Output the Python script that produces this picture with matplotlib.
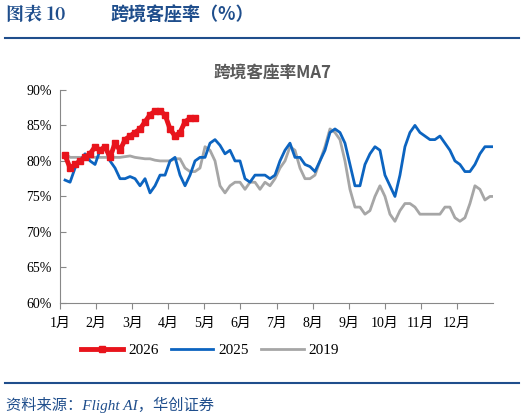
import numpy as np
import matplotlib.pyplot as plt

# 数据（按月位置采样，约每4天一个点）
y2025 = [77.3, 77, 79, 80, 81, 80, 79.5, 81.5, 82, 80, 79, 77.5, 77.5, 77.8, 77.5, 76.5, 77.5, 75.5,
         76.5, 78, 78, 80, 80.5, 78, 76.5, 78, 80, 80.5, 80.5, 82.5, 83, 82.2, 81, 81.5, 80, 80,
         77.5, 77, 78, 78, 78, 77.5, 78, 80, 81.5, 82.5, 80.5, 80.5, 79.5, 79.2, 78.5, 80, 81.5, 84,
         84.5, 84, 82.5, 79.5, 76.5, 76.5, 79.5, 81, 82, 81.5, 78, 76.5, 75, 78, 82, 84, 85, 84,
         83.5, 83, 83, 83.5, 82.5, 81.5, 80, 79.5, 78.5, 78.5, 79.5, 81, 82, 82, 82]
y2019 = [81, 80.5, 80.5, 80.5, 80.5, 80.5, 80.5, 80.5, 80.5, 80.5, 80.5, 80.5, 80.6, 80.7, 80.5, 80.4,
         80.3, 80.3, 80.1, 80, 80, 80, 80.3, 80.3, 79, 78.5, 78.5, 79, 82, 81.5, 80, 76.5, 75.5, 76.5,
         77, 77, 76, 77, 77, 76, 77, 76.5, 77.5, 79, 80, 82, 81.5, 79, 77.5, 77.5, 78, 80, 82, 84.5,
         84, 83, 80, 76, 73.5, 73.5, 72.5, 73, 75, 76.5, 75, 72.5, 71.5, 73, 74, 74, 73.5, 72.5,
         72.5, 72.5, 72.5, 72.5, 73.5, 73.5, 72, 71.5, 72, 74, 76.5, 76, 74.5, 75, 75]
y2026 = [80.8, 79, 79.5, 80, 80.5, 81, 82, 81.5, 82, 80.5, 82.5, 81.5, 83, 83.5, 84, 84.5, 85.5,
         86.5, 87, 87, 86.5, 84.5, 83.5, 84, 85.5, 86, 86]
months = [f'{i}月' for i in range(1, 13)]
yticks = [60, 65, 70, 75, 80, 85, 90]

x_full = 0.14 + 0.1385 * np.arange(len(y2025))
x_2026 = x_full[:len(y2026)]

cjk = ['Noto Sans CJK SC', 'DejaVu Sans']
serif = ['Liberation Serif', 'Noto Sans CJK SC']
navy = '#1f4e8c'

fig = plt.figure(figsize=(5.24, 4.20), dpi=100)
ax = fig.add_axes([0.1145, 0.2786, 0.8265, 0.5074])

ax.plot(x_full, y2019, color='#a6a6a6', lw=2, label='2019', zorder=2)
ax.plot(x_full, y2025, color='#0c64c0', lw=2, label='2025', zorder=3)
ax.plot(x_2026, y2026, color='#e8141c', lw=3.5, marker='s', ms=5, label='2026', zorder=4)

ax.set_xlim(0, 12.0)
ax.set_ylim(60, 90)
ax.set_xticks(range(12))
ax.set_xticklabels(months, family=serif, fontsize=10)
ax.set_yticks(yticks)
ax.set_yticklabels([f'{v}%' for v in yticks], family=serif, fontsize=10)
for s in ['top', 'right']:
    ax.spines[s].set_visible(False)
for s in ['left', 'bottom']:
    ax.spines[s].set_color('#888888')
ax.tick_params(direction='in', length=4, color='#888888', pad=6)
ax.tick_params(axis='x', direction='out')

handles, labels = ax.get_legend_handles_labels()
order = [2, 1, 0]
fig.legend([handles[i] for i in order], [labels[i] for i in order], loc='center',
           bbox_to_anchor=(0.4, 0.166), ncol=3, frameon=False,
           prop={'family': serif, 'size': 11}, handlelength=2.8, columnspacing=0.8, handletextpad=0.3)

fig.text(0.52, 0.826, '跨境客座率MA7', ha='center', va='center', family=cjk,
         fontsize=12, fontweight='bold', color='#595959')
fig.text(0.012, 0.965, '图表 10', ha='left', va='center', family=['Noto Serif CJK SC', 'Liberation Serif', 'Noto Sans CJK SC'],
         fontsize=13, fontweight='bold', color=navy)
fig.text(0.21, 0.965, '跨境客座率（%）', ha='left', va='center', family=cjk,
         fontsize=13, fontweight='bold', color=navy)
fig.add_artist(plt.Line2D([0.01, 0.99], [0.909, 0.909], color=navy, lw=1.5))
fig.add_artist(plt.Line2D([0.01, 0.99], [0.088, 0.088], color=navy, lw=1.5))
fig.text(0.012, 0.035, '资料来源：Flight AI，华创证券', ha='left', va='center', family=serif,
         fontsize=11, style='italic', color=navy)

fig.savefig('out.png', dpi=100)
